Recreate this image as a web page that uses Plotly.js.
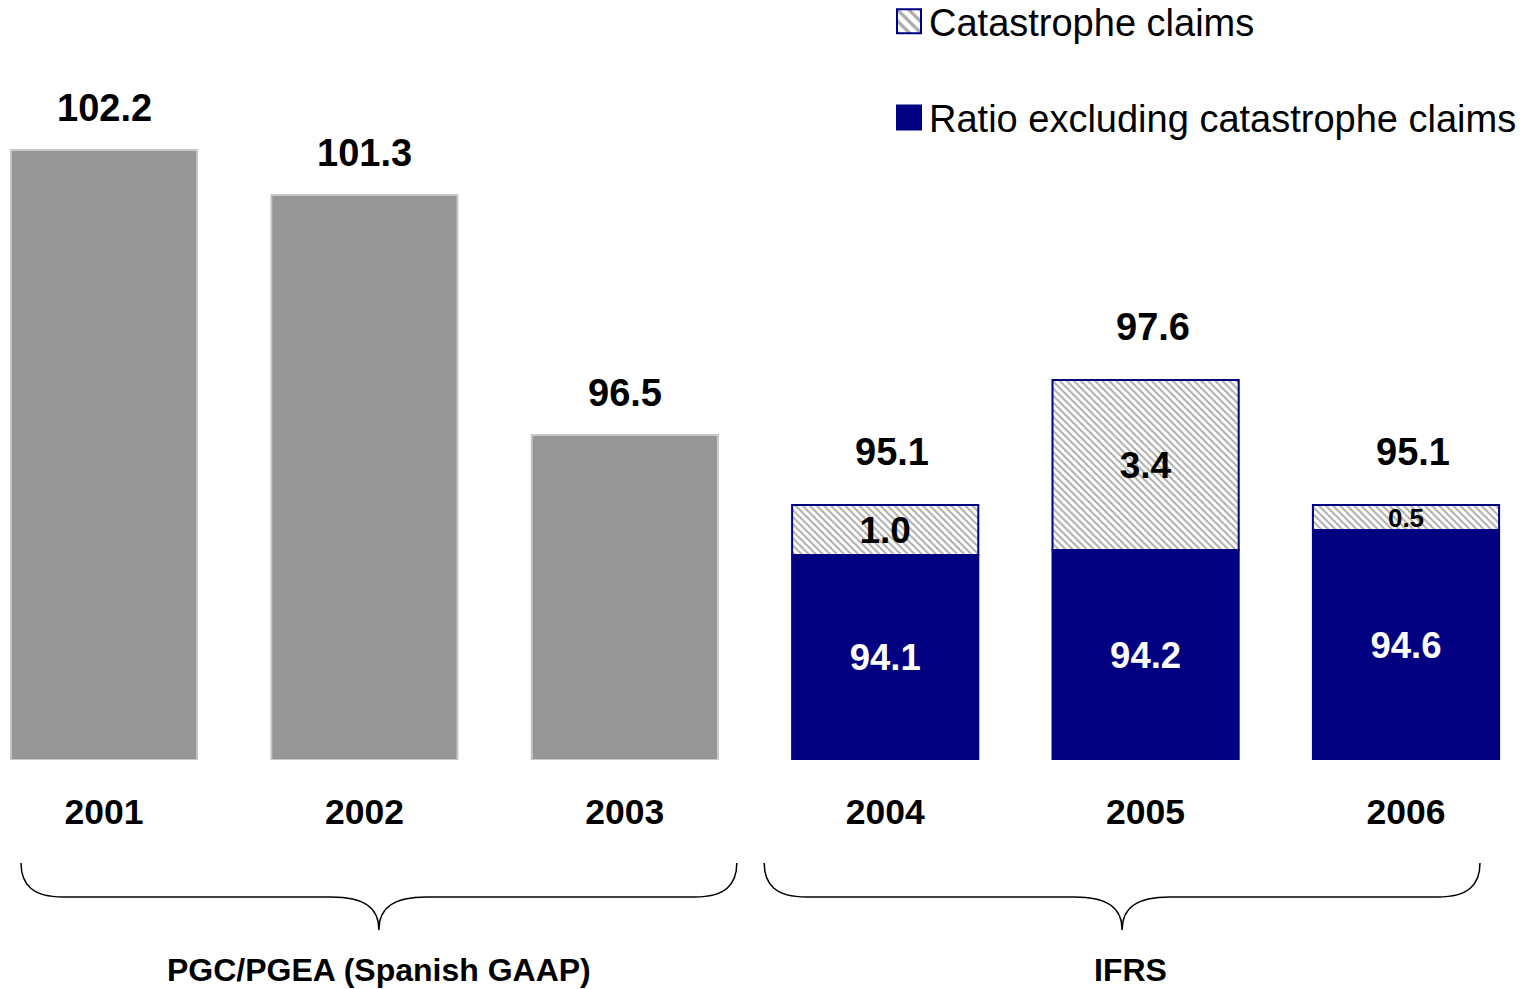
<!DOCTYPE html>
<html>
<head>
<meta charset="utf-8">
<script src="https://cdn.plot.ly/plotly-3.0.1.min.js"></script>
<style>
  html, body { margin: 0; padding: 0; background: #ffffff; }
  #chart { width: 1530px; height: 989px; }
</style>
</head>
<body>
<div id="chart"></div>
<script>
// ---- data ----
var years = ['2001', '2002', '2003', '2004', '2005', '2006'];
var spanishGaapRatio = [102.2, 101.3, 96.5, null, null, null];
var ratioExclCat = [null, null, null, 94.1, 94.2, 94.6];
var catastropheClaims = [null, null, null, 1.0, 3.4, 0.5];
var groupNames = ['PGC/PGEA (Spanish GAAP)', 'IFRS'];
var seriesNames = ['Ratio excluding catastrophe claims', 'Catastrophe claims'];

// ---- styling / layout constants ----
var W = 1530, H = 989;
var plotBottom = 760;               // pixel of the plot area bottom
var AXIS_FLOOR = 90;                // broken value axis starts here
var yRange = [AXIS_FLOOR, 105.2];
var xRange = [-0.3994, 5.4762];
var FONT = 'Liberation Sans, Arial, Helvetica, sans-serif';
var NAVY = '#000080';
var GRAY = '#969696';

function fmt(v) { return v == null ? '' : v.toFixed(1); }
function aboveFloor(v) { return v == null ? null : v - AXIS_FLOOR; }

var totals = years.map(function (y, i) {
  if (spanishGaapRatio[i] != null) return spanishGaapRatio[i];
  return Math.round((ratioExclCat[i] + catastropheClaims[i]) * 10) / 10;
});

var traces = [
  {
    type: 'bar', x: years, base: AXIS_FLOOR, y: spanishGaapRatio.map(aboveFloor), showlegend: false,
    marker: { color: GRAY, line: { color: '#c8c8c8', width: 2 } },
    hoverinfo: 'x+y'
  },
  {
    type: 'bar', x: years, base: ratioExclCat, y: catastropheClaims, name: seriesNames[1],
    legendgroup: 'a',
    marker: {
      color: '#ffffff',
      line: { color: NAVY, width: 2 },
      pattern: { shape: '\\', fgcolor: '#ababab', bgcolor: '#ffffff', size: 5, solidity: 0.4 }
    },
    text: catastropheClaims.map(fmt), texttemplate: '%{text}',
    textposition: 'inside', insidetextanchor: 'middle', constraintext: 'none',
    textfont: { family: FONT, size: catastropheClaims.map(function (v) { return v != null && v < 0.8 ? 26 : 37; }), color: '#000000', weight: 700 }
  },
  {
    type: 'bar', x: years, base: AXIS_FLOOR, y: ratioExclCat.map(aboveFloor), name: seriesNames[0],
    legendgroup: 'b',
    marker: { color: NAVY, line: { color: NAVY, width: 2 } },
    text: ratioExclCat.map(fmt), texttemplate: '%{text}',
    textposition: 'inside', insidetextanchor: 'middle', constraintext: 'none',
    textfont: { family: FONT, size: 36.5, color: '#ffffff', weight: 700 }
  }
];

// total labels above the bars (x given as category index)
var annotations = years.map(function (y, i) {
  var ifrs = spanishGaapRatio[i] == null;
  return {
    x: i, y: totals[i], xref: 'x', yref: 'y',
    text: totals[i].toFixed(1), showarrow: false,
    yanchor: 'bottom', yshift: ifrs ? 30 : 19, xshift: ifrs ? 7 : 0,
    font: { family: FONT, size: 38, color: '#000000', weight: 700 }
  };
});

// braces under the categories
var pxPerCat = W / (xRange[1] - xRange[0]);
function catPx(c) { return (c - xRange[0]) * pxPerCat; }
function px2paperX(p) { return p / W; }
function px2paperY(p) { return (plotBottom - p) / plotBottom; }
function bracePath(x0, x1) {
  var yTop = 863, yMid = 897, yTip = 930;
  var xm = (x0 + x1) / 2;
  var pts = [
    'M', x0, yTop,
    'C', x0, 885, x0 + 12, yMid, x0 + 42, yMid,
    'L', xm - 48, yMid,
    'C', xm - 14, yMid, xm, 908, xm, yTip,
    'C', xm, 908, xm + 14, yMid, xm + 48, yMid,
    'L', x1 - 42, yMid,
    'C', x1 - 12, yMid, x1, 885, x1, yTop
  ];
  var out = [], isX = true;
  pts.forEach(function (p) {
    if (typeof p === 'string') { out.push(p); isX = true; return; }
    out.push((isX ? px2paperX(p).toFixed(5) : px2paperY(p).toFixed(5)) + (isX ? ',' : ''));
    isX = !isX;
  });
  return out.join(' ').replace(/, /g, ',');
}
var braceSpans = [[catPx(0) - 83, catPx(2) + 112], [catPx(3) - 121, catPx(5) + 74]];
var labelShift = [0, 8];
var shapes = braceSpans.map(function (s) {
  return { type: 'path', xref: 'paper', yref: 'paper', path: bracePath(s[0], s[1]),
           line: { color: '#000000', width: 1.5 }, layer: 'above' };
});
braceSpans.forEach(function (s, k) {
  annotations.push({
    xref: 'paper', yref: 'paper', x: px2paperX((s[0] + s[1]) / 2 + labelShift[k]), y: px2paperY(970),
    text: groupNames[k], showarrow: false, xanchor: 'center', yanchor: 'middle',
    font: { family: FONT, size: 32, color: '#000000', weight: 700 }
  });
});

var LEGEND_LIFT = 10;   // px the legend sits above the plot top
var layout = {
  width: W, height: H,
  margin: { l: 0, r: 0, t: 0, b: H - plotBottom, pad: 0 },
  paper_bgcolor: '#ffffff', plot_bgcolor: '#ffffff',
  barmode: 'overlay', bargap: 0.285,
  font: { family: FONT, color: '#000000' },
  xaxis: {
    type: 'category', range: xRange, showgrid: false, zeroline: false, showline: false,
    ticks: '', ticklabelstandoff: 27,
    tickfont: { family: FONT, size: 35.5, color: '#000000', weight: 700 },
    fixedrange: true
  },
  yaxis: {
    range: yRange, showgrid: false, zeroline: false, showline: false,
    showticklabels: false, ticks: '', fixedrange: true
  },
  showlegend: true,
  legend: {
    x: 889 / W, y: 1, xanchor: 'left', yanchor: 'top',
    orientation: 'v', traceorder: 'grouped', tracegroupgap: 44,
    bgcolor: 'rgba(0,0,0,0)', borderwidth: 0,
    font: { family: FONT, size: 38, color: '#000000' }
  },
  annotations: annotations,
  shapes: shapes
};

Plotly.newPlot('chart', traces, layout, { displayModeBar: false, staticPlot: true }).then(function () {
  document.querySelectorAll('.legend .legendpoints path').forEach(function (p) {
    var t = p.getAttribute('transform') || '';
    p.setAttribute('transform', t + ' scale(2)');
    p.style.strokeWidth = '1px';
  });
  var lg = document.querySelector('g.legend');
  if (lg) {
    var t = lg.getAttribute('transform') || '';
    var m = t.match(/translate\(\s*([-\d.]+)[ ,]+([-\d.]+)\s*\)/);
    if (m) lg.setAttribute('transform', 'translate(' + m[1] + ',' + (parseFloat(m[2]) - LEGEND_LIFT) + ')');
  }
});
</script>
</body>
</html>
